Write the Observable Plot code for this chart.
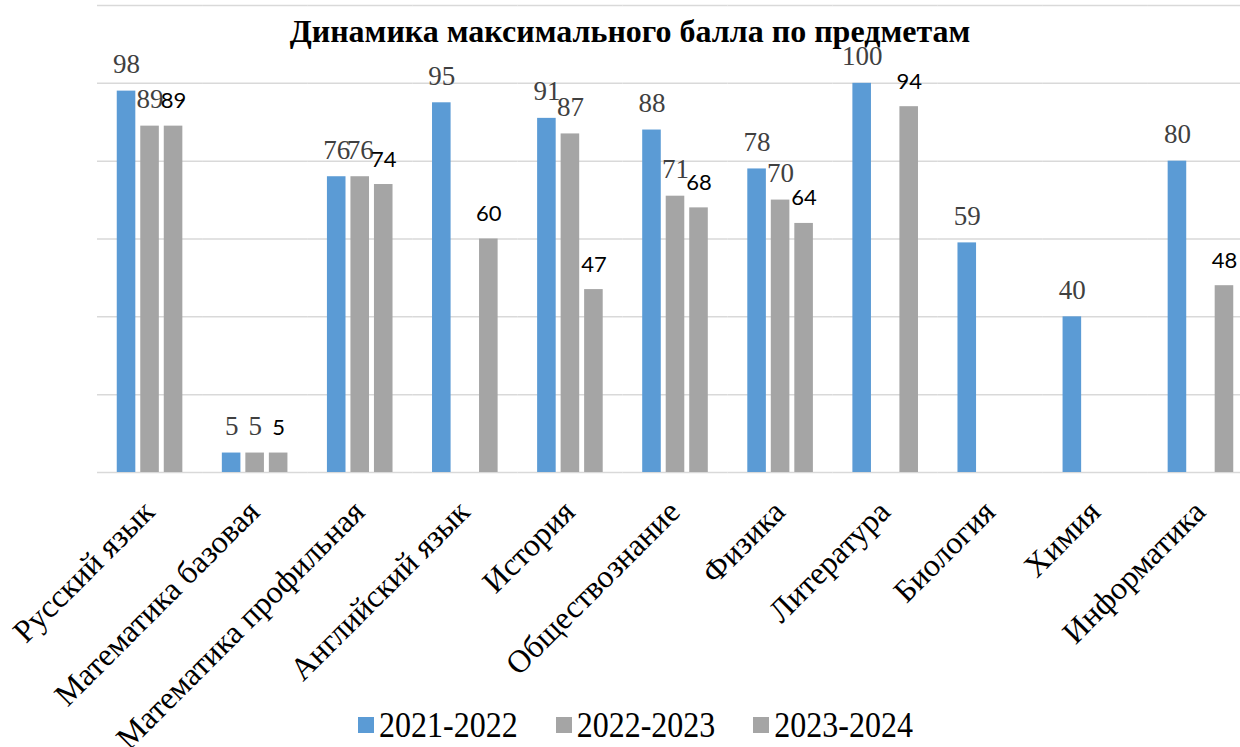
<!DOCTYPE html>
<html>
<head>
<meta charset="utf-8">
<script src="https://cdn.jsdelivr.net/npm/d3@7"></script>
<script src="https://cdn.jsdelivr.net/npm/@observablehq/plot@0.6"></script>
<style>
  html, body { margin: 0; padding: 0; background: #fff; }
  #wrap { position: relative; width: 1240px; height: 747px; overflow: hidden; }
  #chart { width: 1253px; }
  #chart svg { max-width: none !important; }
  #title { position: absolute; top: 15px; left: 0; width: 1260px; text-align: center;
    font-family: "Liberation Serif", serif; font-weight: bold; font-size: 32px; line-height: 32px; color: #000; }
  #legend { position: absolute; top: 709px; left: 358px; display: flex; align-items: center;
    font-family: "Liberation Serif", serif; font-size: 32px; line-height: 32px; color: #000; }
  .item { display: flex; align-items: center; margin-right: 38px; }
  .item span { display: inline-block; transform: scale(1, 1.12); }
  .sw { width: 16px; height: 16px; margin-right: 5px; }
</style>
</head>
<body>
<div id="wrap">
  <div id="chart"></div>
  <div id="title"></div>
  <div id="legend"></div>
</div>
<script>
const titleText = "Динамика максимального балла по предметам";
const subjects = ["Русский язык", "Математика базовая", "Математика профильная", "Английский язык",
  "История", "Обществознание", "Физика", "Литература", "Биология", "Химия", "Информатика"];
const seriesNames = ["2021-2022", "2022-2023", "2023-2024"];
const seriesColors = ["#5B9BD5", "#A5A5A5", "#A5A5A5"];
const values2021 = [98, 5, 76, 95, 91, 88, 78, 100, 59, 40, 80];
const values2022 = [89, 5, 76, null, 87, 71, 70, null, null, null, null];
const values2023 = [89, 5, 74, 60, 47, 68, 64, 94, null, null, 48];
const yTicks = [0, 20, 40, 60, 80, 100, 120];

const allSeries = [values2021, values2022, values2023];
const data = [];
subjects.forEach((s, i) => {
  allSeries.forEach((vals, k) => {
    if (vals[i] != null) data.push({subject: s, series: seriesNames[k], value: vals[i]});
  });
});

document.getElementById("title").textContent = titleText;
const legend = document.getElementById("legend");
seriesNames.forEach((n, k) => {
  const it = document.createElement("div"); it.className = "item";
  const sw = document.createElement("div"); sw.className = "sw"; sw.style.background = seriesColors[k];
  const tx = document.createElement("span"); tx.textContent = n;
  it.appendChild(sw); it.appendChild(tx); legend.appendChild(it);
});

const chart = Plot.plot({
  width: 1253,
  height: 747,
  marginTop: 5,
  marginLeft: 97,
  marginRight: 0,
  marginBottom: 275,
  style: {background: "transparent", overflow: "visible", maxWidth: "none"},
  fx: {domain: subjects, paddingInner: 0, paddingOuter: 0, round: false, label: null, axis: null},
  x: {domain: seriesNames, paddingInner: 0.21, paddingOuter: 0.84, round: false, axis: null},
  y: {domain: [0, 120], axis: null},
  color: {domain: seriesNames, range: seriesColors},
  marks: [
    Plot.ruleY(yTicks, {stroke: "#d9d9d9", strokeWidth: 1.5}),
    Plot.barY(data, {fx: "subject", x: "series", y: "value", fill: "series"}),
    Plot.text(data.filter(d => d.series !== seriesNames[2]), {
      fx: "subject", x: "series", y: "value", text: d => String(d.value),
      lineAnchor: "bottom", dy: -18, fontSize: 27, fill: "#404040",
      fontFamily: "Liberation Serif"
    }),
    Plot.text(data.filter(d => d.series === seriesNames[2]), {
      fx: "subject", x: "series", y: "value", text: d => String(d.value),
      lineAnchor: "bottom", dy: -18, fontSize: 22, fill: "#000",
      fontFamily: "Lato"
    }),
    Plot.axisFx({anchor: "bottom", tickRotate: -45, tickSize: 0, tickPadding: 34, dx: -1, fontSize: 32,
      fontFamily: "Liberation Serif", fill: "#000", label: null})
  ]
});
document.getElementById("chart").appendChild(chart);
</script>
</body>
</html>
